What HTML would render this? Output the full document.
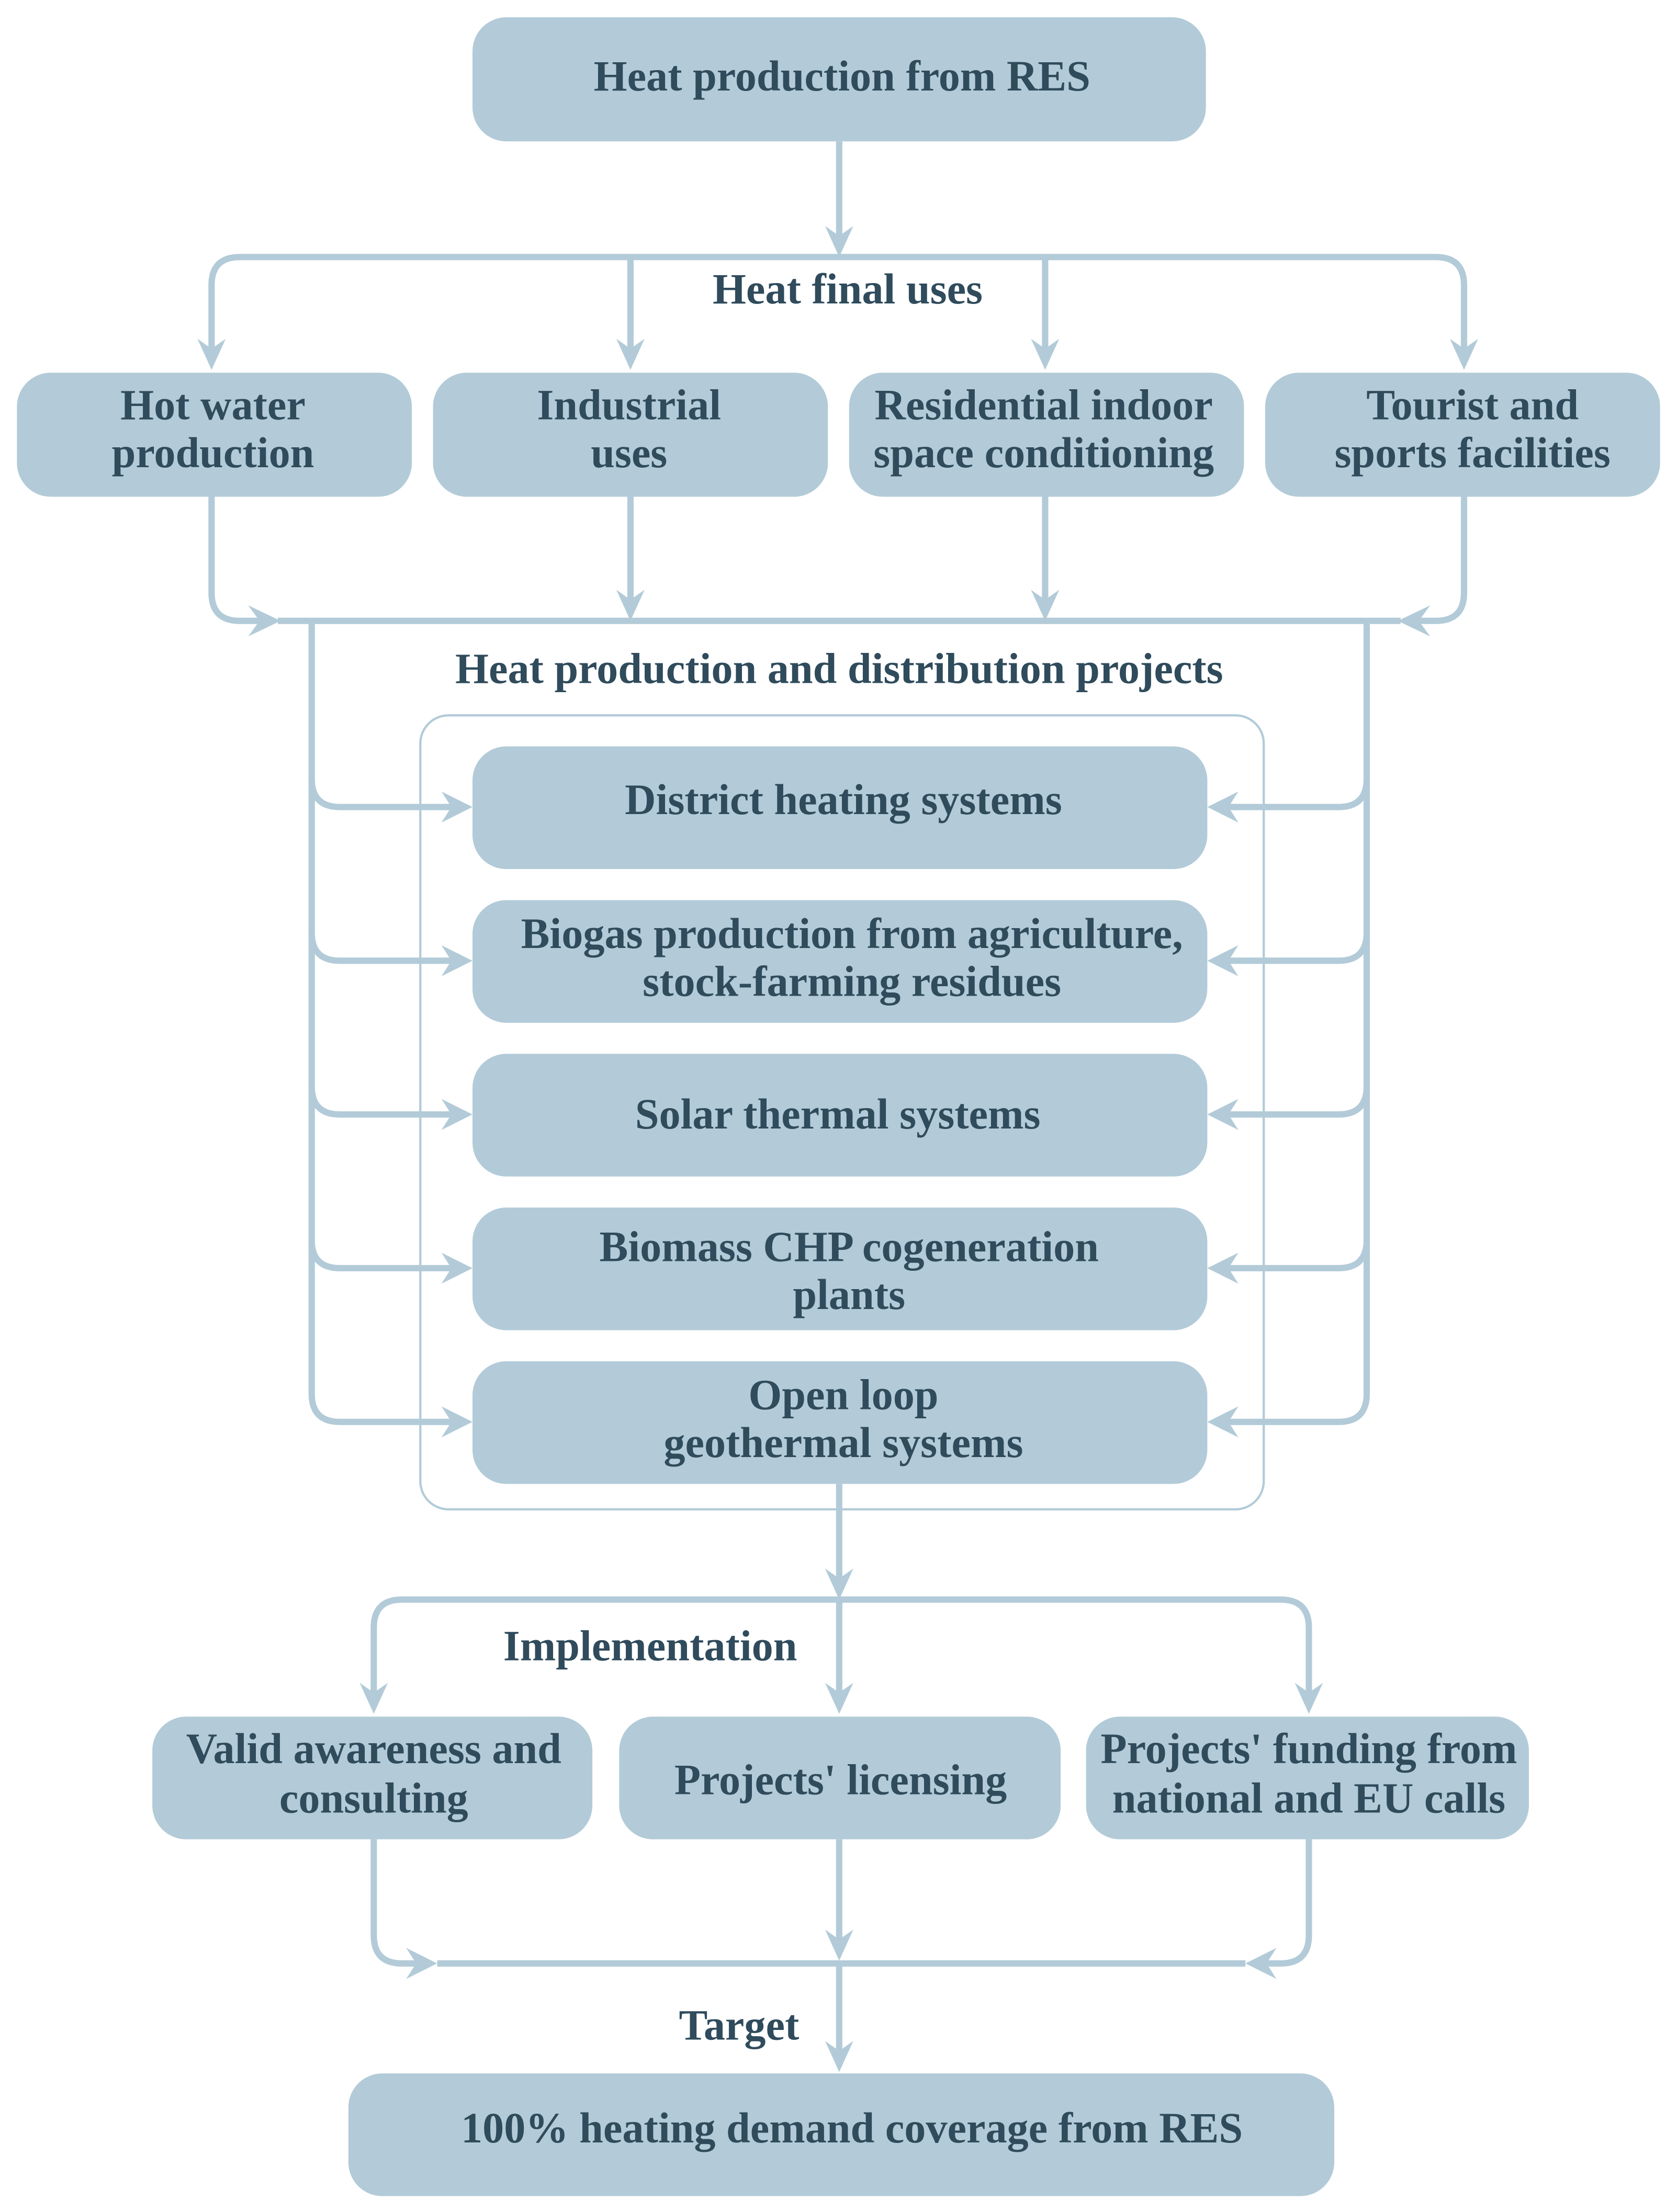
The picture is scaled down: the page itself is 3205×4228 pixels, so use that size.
<!DOCTYPE html>
<html><head><meta charset="utf-8"><style>
html,body{margin:0;padding:0;background:#fff;}
svg{display:block;}
text{font-family:"Liberation Serif",serif;font-weight:bold;fill:#2f4b5c;font-size:30.5px;text-anchor:middle;}
</style></head><body>
<svg width="3205" height="4228" viewBox="0 0 1189 1568" xmlns="http://www.w3.org/2000/svg">
<g fill="#b3cbd8">
<rect x="335" y="12" width="520" height="88" rx="24"/>
<rect x="12" y="264" width="280" height="88" rx="24"/>
<rect x="307" y="264" width="280" height="88" rx="24"/>
<rect x="602" y="264" width="280" height="88" rx="24"/>
<rect x="897" y="264" width="280" height="88" rx="24"/>
<rect x="335" y="529" width="521" height="87" rx="24"/>
<rect x="335" y="638" width="521" height="87" rx="24"/>
<rect x="335" y="747" width="521" height="87" rx="24"/>
<rect x="335" y="856" width="521" height="87" rx="24"/>
<rect x="335" y="965" width="521" height="87" rx="24"/>
<rect x="108" y="1217" width="312" height="87" rx="24"/>
<rect x="439" y="1217" width="313" height="87" rx="24"/>
<rect x="770" y="1217" width="314" height="87" rx="24"/>
<rect x="247" y="1470" width="699" height="87" rx="24"/>
</g>
<rect x="298" y="507" width="598" height="563" rx="20" fill="none" stroke="#b3cbd8" stroke-width="1.6"/>
<g fill="none" stroke="#b3cbd8" stroke-width="4.5">
<path d="M595 100V170"/>
<path d="M150 250V202Q150 182 170 182H1018Q1038 182 1038 202V250"/>
<path d="M447 182V250M741 182V250"/>
<path d="M150 352V420Q150 440 170 440H190"/>
<path d="M1038 352V420Q1038 440 1018 440H1000"/>
<path d="M197 440H993"/>
<path d="M447 352V428M741 352V428"/>
<path d="M221 440V988Q221 1008 241 1008H325"/>
<path d="M221 552Q221 572 241 572H325M221 661Q221 681 241 681H325M221 770Q221 790 241 790H325M221 879Q221 899 241 899H325"/>
<path d="M969 440V988Q969 1008 949 1008H866"/>
<path d="M969 552Q969 572 949 572H866M969 661Q969 681 949 681H866M969 770Q969 790 949 790H866M969 879Q969 899 949 899H866"/>
<path d="M595 1052V1122"/>
<path d="M265 1203V1154Q265 1134 285 1134H908Q928 1134 928 1154V1203"/>
<path d="M595 1134V1205"/>
<path d="M265 1304V1372Q265 1392 285 1392H302"/>
<path d="M928 1304V1372Q928 1392 908 1392H890"/>
<path d="M310 1392H883"/>
<path d="M595 1304V1380M595 1392V1458"/>
</g>
<g fill="#b3cbd8">
<polygon points="595,182 585,160 595,167 605,160"/>
<polygon points="150,262 140,240 150,247 160,240"/>
<polygon points="447,262 437,240 447,247 457,240"/>
<polygon points="741,262 731,240 741,247 751,240"/>
<polygon points="1038,262 1028,240 1038,247 1048,240"/>
<polygon points="447,440 437,418 447,425 457,418"/>
<polygon points="741,440 731,418 741,425 751,418"/>
<polygon points="199,440 176,429 184,440 176,451"/>
<polygon points="991,440 1014,429 1006,440 1014,451"/>
<polygon points="335,572 313,561 320,572 313,583"/>
<polygon points="335,681 313,670 320,681 313,692"/>
<polygon points="335,790 313,779 320,790 313,801"/>
<polygon points="335,899 313,888 320,899 313,910"/>
<polygon points="335,1008 313,997 320,1008 313,1019"/>
<polygon points="856,572 878,561 871,572 878,583"/>
<polygon points="856,681 878,670 871,681 878,692"/>
<polygon points="856,790 878,779 871,790 878,801"/>
<polygon points="856,899 878,888 871,899 878,910"/>
<polygon points="856,1008 878,997 871,1008 878,1019"/>
<polygon points="595,1134 585,1112 595,1119 605,1112"/>
<polygon points="265,1215 255,1193 265,1200 275,1193"/>
<polygon points="595,1215 585,1193 595,1200 605,1193"/>
<polygon points="928,1215 918,1193 928,1200 938,1193"/>
<polygon points="595,1390 585,1368 595,1375 605,1368"/>
<polygon points="310,1392 288,1381 295,1392 288,1403"/>
<polygon points="883,1392 905,1381 898,1392 905,1403"/>
<polygon points="595,1469 585,1447 595,1454 605,1447"/>
</g>
<text x="597" y="64">Heat production from RES</text>
<text x="601" y="215">Heat final uses</text>
<text x="151" y="297">Hot water</text><text x="151" y="331">production</text>
<text x="446" y="297">Industrial</text><text x="446" y="331">uses</text>
<text x="740" y="297">Residential indoor</text><text x="740" y="331">space conditioning</text>
<text x="1044" y="297">Tourist and</text><text x="1044" y="331">sports facilities</text>
<text x="595" y="484">Heat production and distribution projects</text>
<text x="598" y="577">District heating systems</text>
<text x="604" y="672">Biogas production from agriculture,</text><text x="604" y="706">stock-farming residues</text>
<text x="594" y="800">Solar thermal systems</text>
<text x="602" y="894">Biomass CHP cogeneration</text><text x="602" y="928">plants</text>
<text x="598" y="999">Open loop</text><text x="598" y="1033">geothermal systems</text>
<text x="461" y="1177">Implementation</text>
<text x="265" y="1250">Valid awareness and</text><text x="265" y="1285">consulting</text>
<text x="596" y="1272">Projects' licensing</text>
<text x="928" y="1250">Projects' funding from</text><text x="928" y="1285">national and EU calls</text>
<text x="524" y="1446">Target</text>
<text x="604" y="1519">100% heating demand coverage from RES</text>
</svg>
</body></html>
